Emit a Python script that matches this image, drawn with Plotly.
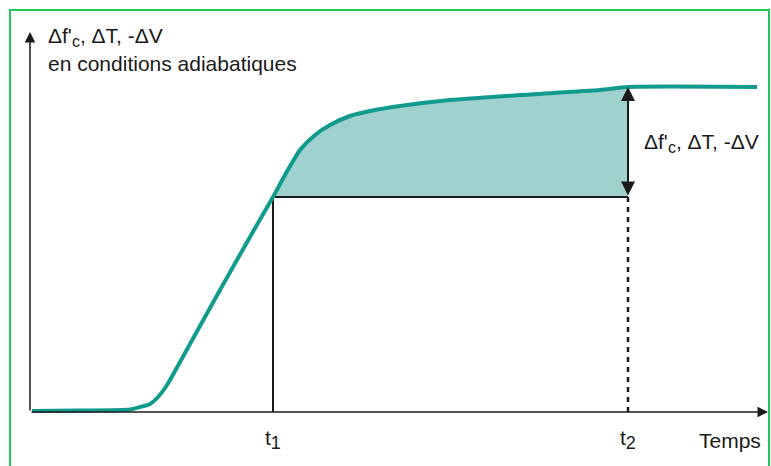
import plotly.graph_objects as go

# Adiabatic response curve: time vs. measured quantity (arbitrary units)
time = [2, 50, 100, 110, 120, 128, 137, 160, 190, 220, 243, 255, 270, 285, 300,
        320, 340, 370, 420, 490, 570, 598, 727]
value = [1, 1.5, 2.5, 5, 8, 15, 27, 68, 122, 175, 215, 237, 262, 277, 287,
         296, 301, 306, 312, 317, 322, 325, 325]

t1, t2 = 243, 598
level_t1 = 215
level_t2 = 325
x_axis_end = 738
y_axis_end = 380

teal = "#119b8d"
fill_teal = "#9fd1ce"
ink = "#1a1a1a"
font_family = "Liberation Sans, Arial, sans-serif"

fig = go.Figure()

# Shaded gain between t1 and t2
seg_t = [t for t in time if t1 <= t <= t2]
seg_v = [v for t, v in zip(time, value) if t1 <= t <= t2]
fig.add_trace(go.Scatter(x=[t1, t2], y=[level_t1, level_t1], mode="lines",
                         line=dict(width=0), hoverinfo="skip", showlegend=False))
fig.add_trace(go.Scatter(x=seg_t, y=seg_v, mode="lines", fill="tonexty",
                         fillcolor=fill_teal, line=dict(width=0, shape="spline", smoothing=0.6),
                         hoverinfo="skip", showlegend=False))

# Reference lines at t1 and t2
fig.add_trace(go.Scatter(x=[t1, t1, t2], y=[0, level_t1, level_t1], mode="lines",
                         line=dict(color=ink, width=2), showlegend=False))
fig.add_trace(go.Scatter(x=[t2, t2], y=[0, level_t1], mode="lines",
                         line=dict(color=ink, width=2.5, dash="5px,5px"), showlegend=False))

# Main curve
fig.add_trace(go.Scatter(x=time, y=value, mode="lines",
                         line=dict(color=teal, width=4, shape="spline", smoothing=0.6),
                         showlegend=False))

arrow_common = dict(xref="x", yref="y", axref="x", ayref="y", text="",
                    showarrow=True, arrowcolor=ink)
annotations = [
    # axes
    dict(x=0, y=y_axis_end, ax=0, ay=0, arrowhead=2, arrowsize=1.4, arrowwidth=1.5, **arrow_common),
    dict(x=x_axis_end, y=0, ax=0, ay=0, arrowhead=2, arrowsize=1.4, arrowwidth=1.5, **arrow_common),
    # gain between t1 and t2
    dict(x=t2, y=level_t2, ax=t2, ay=level_t1, arrowhead=2, arrowside="end+start",
         arrowsize=1.4, arrowwidth=2, **arrow_common),
]


def sub(s, size=16):
    return f"<sub><span style='font-size:{size}px'>{s}</span></sub>"


quantity = f"\u0394f'{sub('c')}, \u0394T, -\u0394V"
text_font = dict(family=font_family, size=21, color=ink)
labels = [
    dict(x=16, y=375, text=quantity, xanchor="left"),
    dict(x=16, y=349, text="en conditions adiabatiques", xanchor="left"),
    dict(x=612, y=269, text=quantity, xanchor="left"),
    dict(x=t1, y=-27, text="t" + sub("1", 18), xanchor="center"),
    dict(x=t2, y=-27, text="t" + sub("2", 18), xanchor="center"),
    dict(x=733, y=-28, text="Temps", xanchor="right"),
]
for lab in labels:
    annotations.append(dict(xref="x", yref="y", showarrow=False, yanchor="middle",
                            font=text_font, **lab))

fig.update_layout(
    width=771, height=466,
    margin=dict(l=0, r=0, t=0, b=0),
    paper_bgcolor="white", plot_bgcolor="white",
    xaxis=dict(range=[-30, 741], visible=False, fixedrange=True),
    yaxis=dict(range=[-54, 412], visible=False, fixedrange=True),
    annotations=annotations,
    shapes=[dict(type="rect", xref="paper", yref="paper",
                 x0=10 / 771, x1=769 / 771, y0=-0.05, y1=1 - 10 / 466,
                 line=dict(color="#1fc955", width=2))],
)

fig.write_html("out.html")
